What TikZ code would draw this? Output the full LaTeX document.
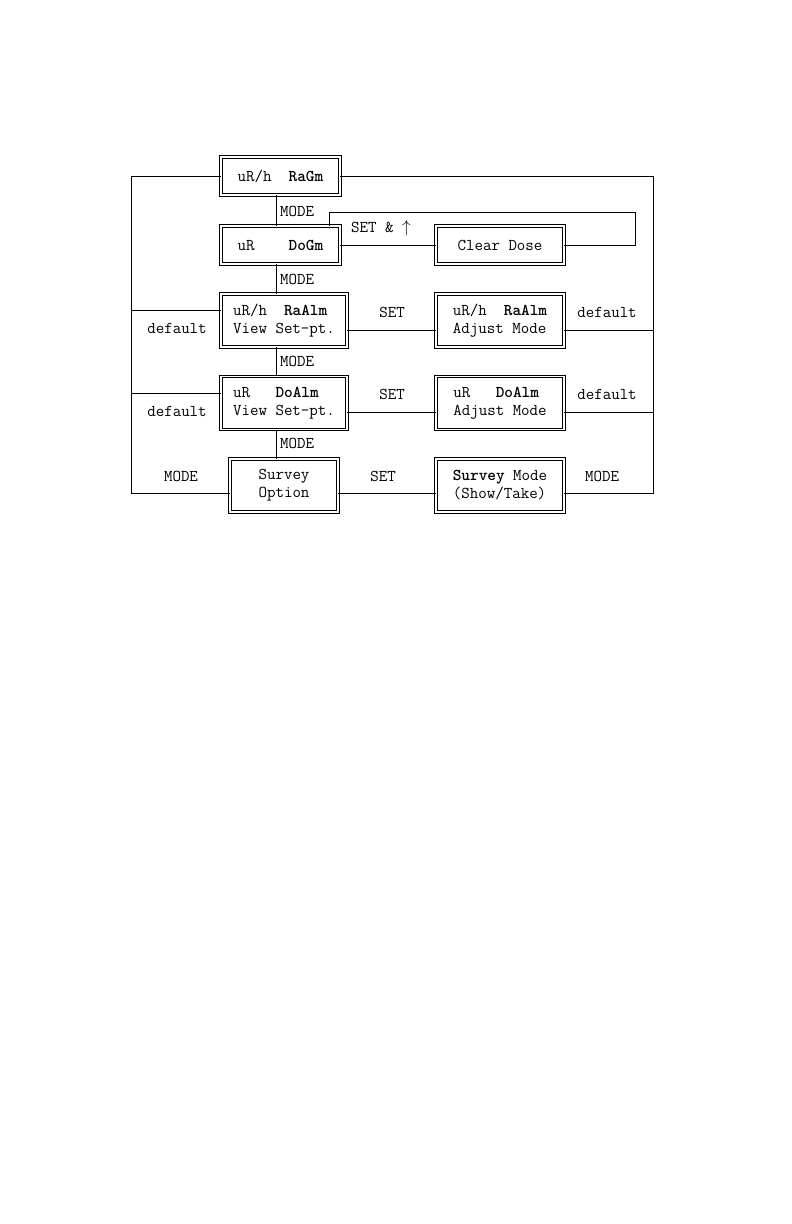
\documentclass[tikz,border=0pt]{standalone}
\usepackage{tikz}
\usepackage{amssymb}
\usetikzlibrary{calc}

\tikzset{
    modebox/.style={draw, double, line width=0.8pt, double distance=1.8pt,
        align=left, inner sep=0pt, font=\ttfamily\fontsize{16.5bp}{18bp}\selectfont},
    lbl/.style={inner sep=1pt, font=\ttfamily\fontsize{16.5bp}{18bp}\selectfont},
    wire/.style={line width=0.7pt}
}

\begin{document}
\begin{tikzpicture}[x=1bp, y=-1bp]
    % Cadre de la page
    \useasboundingbox (0,0) rectangle (792,1224);

    % Rails verticaux
    \coordinate (lbus) at (131,0);
    \coordinate (vbus) at (276,0);
    \coordinate (rbus) at (653,0);
    \coordinate (loopr) at (635,212);
    \coordinate (loopl) at (329,212);

    % Boites de gauche
    \node[modebox, minimum width=119bp, minimum height=38bp] (ragm) at (280.5,176) {uR/h~~\textbf{RaGm}};
    \node[modebox, minimum width=119bp, minimum height=38bp] (dogm) at (280.5,245) {uR~~~~\textbf{DoGm}};
    \node[modebox, minimum width=126bp, minimum height=53bp] (raview) at (284,320.5) {uR/h~~\textbf{RaAlm}\\View Set-pt.};
    \node[modebox, minimum width=126bp, minimum height=53bp] (doview) at (284,403) {uR~~~\textbf{DoAlm}\\View Set-pt.};
    \node[modebox, minimum width=108bp, minimum height=53bp, align=center] (survopt) at (284,485.5) {Survey\\Option};

    % Boites de droite
    \node[modebox, minimum width=128bp, minimum height=38bp] (clear) at (500,245) {Clear Dose};
    \node[modebox, minimum width=128bp, minimum height=53bp] (raadj) at (500,320.5) {uR/h~~\textbf{RaAlm}\\Adjust Mode};
    \node[modebox, minimum width=128bp, minimum height=53bp] (doadj) at (500,403) {uR~~~\textbf{DoAlm}\\Adjust Mode};
    \node[modebox, minimum width=128bp, minimum height=53bp] (survmode) at (500,485.5) {\textbf{Survey} Mode\\(Show/Take)};

    % Chaine MODE au centre
    \draw[wire] (ragm.south -| vbus) -- (dogm.north -| vbus);
    \draw[wire] (dogm.south -| vbus) -- (raview.north -| vbus);
    \draw[wire] (raview.south -| vbus) -- (doview.north -| vbus);
    \draw[wire] (doview.south -| vbus) -- (survopt.north -| vbus);
    \node[lbl, anchor=west] (m1) at (279,211) {MODE};
    \node[lbl, anchor=west] (m2) at (279,279) {MODE};
    \node[lbl, anchor=west] (m3) at (279,361) {MODE};
    \node[lbl, anchor=west] (m4) at (279,443) {MODE};

    % Boucle SET & fleche
    \draw[wire] (dogm.east) -- (clear.west);
    \draw[wire] (clear.east) -| (loopr) -- (loopl) -- (loopl |- dogm.north);
    \node[lbl, anchor=west] (setup) at (350,228) {SET \& $\uparrow$};

    % Rail de gauche
    \draw[wire] (ragm.west) -- (ragm.west -| lbus) -- ([yshift=-8bp]survopt.west -| lbus) -- ([yshift=-8bp]survopt.west);
    \draw[wire] ([yshift=10bp]raview.west) -- ([yshift=10bp]raview.west -| lbus);
    \draw[wire] ([yshift=10bp]doview.west) -- ([yshift=10bp]doview.west -| lbus);
    \node[lbl] (ldef1) at (177,328) {default};
    \node[lbl] (ldef2) at (177,411) {default};
    \node[lbl] (lmode) at (181,476) {MODE};

    % Liaisons SET
    \draw[wire] ([yshift=-10bp]raview.east) -- ([yshift=-10bp]raadj.west);
    \draw[wire] ([yshift=-9bp]doview.east) -- ([yshift=-9bp]doadj.west);
    \draw[wire] ([yshift=-8bp]survopt.east) -- ([yshift=-8bp]survmode.west);
    \node[lbl] (set1) at (392,312) {SET};
    \node[lbl] (set2) at (392,394) {SET};
    \node[lbl] (set3) at (383,476) {SET};

    % Rail de droite
    \draw[wire] (ragm.east) -- (ragm.east -| rbus) -- ([yshift=-8bp]survmode.east -| rbus) -- ([yshift=-8bp]survmode.east);
    \draw[wire] ([yshift=-10bp]raadj.east) -- ([yshift=-10bp]raadj.east -| rbus);
    \draw[wire] ([yshift=-9bp]doadj.east) -- ([yshift=-9bp]doadj.east -| rbus);
    \node[lbl] (rdef1) at (607,312) {default};
    \node[lbl] (rdef2) at (607,394) {default};
    \node[lbl] (rmode) at (602,476) {MODE};
\end{tikzpicture}
\end{document}
